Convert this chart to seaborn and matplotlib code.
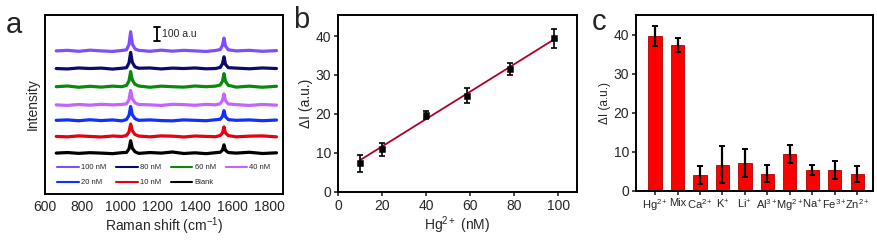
import numpy as np
import pandas as pd
import matplotlib
matplotlib.use("Agg")
import matplotlib.pyplot as plt
import seaborn as sns

# ---------------- data: panel a (Raman spectra) ----------------
shift = [660, 720, 780, 840, 900, 960, 1010, 1035, 1048, 1057, 1066, 1080, 1100,
         1160, 1220, 1280, 1340, 1400, 1460, 1510, 1535, 1547, 1555, 1563, 1578,
         1620, 1690, 1760, 1835]
spec_labels = ["100 nM", "80 nM", "60 nM", "40 nM", "20 nM", "10 nM", "Blank"]
spec_colors = ["#7d4dff", "#0a0a70", "#0a8a0a", "#c464ff", "#1030ff", "#e80010", "#000000"]
spec_offsets = [1039, 911, 779, 647, 535, 418, 297]
spec_100 = [0, 4, -3, 5, 0, -4, 3, 8, 45, 139, 50, 15, 4, -3, 5, -2, 4, 0, -4, 3, 10, 40, 93, 35, 8, 0, 4, -3, 2]
spec_80 = [0, -3, 4, 0, 3, -4, 2, 6, 40, 117, 45, 12, 2, 4, -3, 3, 0, 4, -2, 0, 8, 35, 85, 30, 6, 3, -2, 4, 0]
spec_60 = [0, 5, -4, 3, -3, 4, 0, 10, 42, 110, 48, 18, 5, -4, 4, 0, -3, 5, 0, 4, 12, 40, 95, 38, 10, -3, 4, -4, 3]
spec_40 = [0, -4, 3, -2, 4, 0, 3, 8, 38, 105, 45, 15, 3, 0, -4, 4, 2, -3, 4, 0, 9, 32, 80, 30, 7, 2, -4, 3, -2]
spec_20 = [0, 3, -3, 4, -2, 3, -4, 6, 35, 100, 40, 12, 0, 3, -2, -4, 3, 0, -3, 4, 8, 28, 70, 26, 5, 0, 3, -3, 2]
spec_10 = [0, -3, 4, 0, -4, 3, 0, 7, 32, 90, 42, 14, 3, -3, 4, 2, -4, 3, 0, -2, 7, 26, 70, 25, 6, -3, 2, 4, -3]
spec_blank = [0, 4, -2, 3, 0, -4, 3, 5, 30, 90, 35, 10, -2, 4, 0, 8, -3, 2, -4, 3, 6, 22, 60, 20, 4, 0, 6, -3, 2]
spectra = [spec_100, spec_80, spec_60, spec_40, spec_20, spec_10, spec_blank]
a_xticks = [600, 800, 1000, 1200, 1400, 1600, 1800]

# ---------------- data: panel b (calibration) ----------------
hg_conc = [10, 20, 40, 58.5, 78, 98]
hg_dI = [7.3, 10.9, 19.7, 24.7, 31.5, 39.4]
hg_err = [2.2, 1.6, 1.0, 2.0, 1.6, 2.4]
fit_x = [10, 98]
fit_y = [8.1, 39.1]
b_xticks = [0, 20, 40, 60, 80, 100]
b_yticks = [0, 10, 20, 30, 40]

# ---------------- data: panel c (selectivity) ----------------
ions = ["Hg$^{2+}$", "Mix", "Ca$^{2+}$", "K$^{+}$", "Li$^{+}$", "Al$^{3+}$",
        "Mg$^{2+}$", "Na$^{+}$", "Fe$^{3+}$", "Zn$^{2+}$"]
ion_dI = [39.6, 37.3, 4.0, 6.7, 7.0, 4.4, 9.3, 5.3, 5.3, 4.2]
ion_err = [2.6, 1.9, 2.3, 4.7, 3.6, 2.1, 2.3, 1.2, 2.4, 2.0]
c_yticks = [0, 10, 20, 30, 40]

# ---------------- style ----------------
sns.set_style("ticks")
plt.rcParams['font.family'] = ['Liberation Sans', 'DejaVu Sans']
plt.rcParams['mathtext.fontset'] = 'custom'
plt.rcParams['mathtext.rm'] = 'Liberation Sans'
plt.rcParams['mathtext.it'] = 'Liberation Sans'
FS = 10

fig = plt.figure(figsize=(8.77, 2.42), dpi=100)

def style_axes(ax):
    for s in ax.spines.values():
        s.set_linewidth(1.4)
        s.set_color("black")
    ax.tick_params(labelsize=FS, width=1.2, length=3, direction="out", pad=2)

# ---- panel a ----
axa = fig.add_axes([0.0513, 0.1983, 0.271, 0.74])
for lab, col, off, sp in zip(spec_labels, spec_colors, spec_offsets, spectra):
    df = pd.DataFrame({"shift": shift, "I": np.array(sp) + off})
    sns.lineplot(data=df, x="shift", y="I", ax=axa, color=col, lw=2.3, label=lab)
h, l = axa.get_legend_handles_labels()
order = [0, 4, 1, 5, 2, 6, 3]
leg = axa.legend([h[i] for i in order], [l[i] for i in order], ncol=4, frameon=False,
                 fontsize=5.5, loc="lower center", bbox_to_anchor=(0.5, 0.0),
                 handlelength=2.8, columnspacing=1.3, handletextpad=0.3,
                 labelspacing=1.0, borderaxespad=0.6)
for lh in leg.get_lines():
    lh.set_linewidth(1.5)
axa.set_xlim(600, 1868)
axa.set_ylim(0, 1300)
axa.set_yticks([])
axa.set_xticks(a_xticks)
style_axes(axa)
axa.tick_params(axis="x", length=0, pad=4)
axa.set_xlabel("Raman shift (cm$^{-1}$)", fontsize=FS, labelpad=1)
axa.set_ylabel("Intensity", fontsize=FS, labelpad=4)
# scale bar
axa.plot([1197, 1197], [1112, 1212], color="black", lw=1.3)
axa.plot([1182, 1212], [1212, 1212], color="black", lw=1.3)
axa.plot([1182, 1212], [1112, 1112], color="black", lw=1.3)
axa.text(1225, 1162, "100 a.u", fontsize=7.5, va="center", ha="left")
fig.text(0.016, 0.955, "a", fontsize=21, va="top", ha="center")

# ---- panel b ----
axb = fig.add_axes([0.3854, 0.2079, 0.2725, 0.730])
sns.lineplot(x=fit_x, y=fit_y, ax=axb, color="#b0002a", lw=1.3)
axb.errorbar(hg_conc, hg_dI, yerr=hg_err, fmt="none", ecolor="black",
             elinewidth=1.2, capsize=2.5, capthick=1.2)
sns.scatterplot(x=hg_conc, y=hg_dI, ax=axb, marker="s", color="black", s=22,
                edgecolor="black", zorder=5)
axb.set_xlim(0, 108.5)
axb.set_ylim(0, 45.4)
axb.set_xticks(b_xticks)
axb.set_yticks(b_yticks)
style_axes(axb)
axb.set_xlabel("Hg$^{2+}$ (nM)", fontsize=FS, labelpad=1)
axb.set_ylabel("ΔI (a.u.)", fontsize=FS, labelpad=2)
fig.text(0.344, 0.975, "b", fontsize=21, va="top", ha="center")

# ---- panel c ----
axc = fig.add_axes([0.7252, 0.212, 0.2706, 0.726])
dfc = pd.DataFrame({"ion": ions, "dI": ion_dI})
sns.barplot(data=dfc, x="ion", y="dI", ax=axc, color="#ff0000", width=0.59,
            edgecolor="#b00000", linewidth=0.6, saturation=1)
axc.errorbar(range(len(ions)), ion_dI, yerr=ion_err, fmt="none", ecolor="black",
             elinewidth=1.6, capsize=2.5, capthick=1.4)
axc.set_xlim(-0.85, 9.72)
axc.set_ylim(0, 45)
axc.set_yticks(c_yticks)
style_axes(axc)
axc.tick_params(axis="x", labelsize=8, pad=2)
axc.set_xlabel("")
axc.set_ylabel("ΔI (a.u.)", fontsize=8.5, labelpad=2)
fig.text(0.683, 0.965, "c", fontsize=21, va="top", ha="center")

fig.savefig("out.png", dpi=100)
